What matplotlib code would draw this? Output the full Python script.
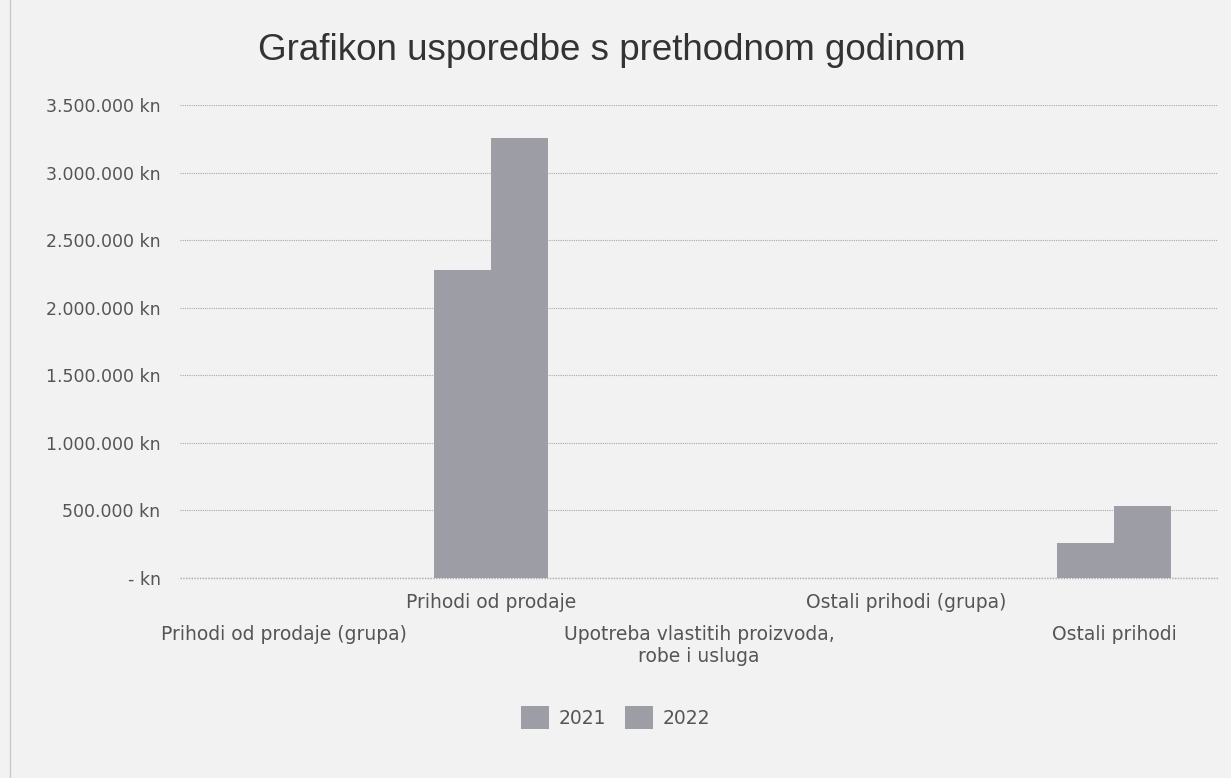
import matplotlib
matplotlib.use("Agg")
import matplotlib.pyplot as plt
from matplotlib.ticker import FuncFormatter, MultipleLocator
from matplotlib.patches import Patch, Rectangle
import numpy as np

title = "Grafikon usporedbe s prethodnom godinom"
categories = ["Prihodi od prodaje (grupa)", "Prihodi od prodaje",
              "Upotreba vlastitih proizvoda,\nrobe i usluga",
              "Ostali prihodi (grupa)", "Ostali prihodi"]
series_names = ["2021", "2022"]
values_2021 = [0, 2280000, 0, 0, 260000]
values_2022 = [0, 3255000, 0, 0, 535000]

bg = "#f2f2f2"
bar_color = "#9d9ea5"
text_color = "#555555"

fig = plt.figure(figsize=(12.31, 7.78), dpi=100, facecolor=bg)
ax = fig.add_axes([0.1462, 0.2571, 0.8432, 0.6079], facecolor=bg)

x = np.arange(len(categories))
w = 0.275
ax.bar(x - w / 2, values_2021, width=w, color=bar_color, label=series_names[0], zorder=3)
ax.bar(x + w / 2, values_2022, width=w, color=bar_color, label=series_names[1], zorder=3)

ax.set_xlim(-0.5, len(categories) - 0.5)
ax.set_ylim(0, 3500000)
ax.yaxis.set_major_locator(MultipleLocator(500000))

def fmt(v, pos):
    if v == 0:
        return "- kn"
    return f"{int(v):,}".replace(",", ".") + " kn"

ax.yaxis.set_major_formatter(FuncFormatter(fmt))
ax.tick_params(axis="y", length=0, pad=14, labelsize=12.5, labelcolor=text_color)
ax.tick_params(axis="x", length=0, labelbottom=False)
ax.grid(axis="y", color="#a8a8a8", linestyle=(0, (1, 1)), linewidth=0.8, zorder=0)
ax.axhline(0, color="#a8a8a8", linestyle=(0, (1, 1)), linewidth=1.0, zorder=2, clip_on=False)
for s in ax.spines.values():
    s.set_visible(False)

# staggered category labels
trans = ax.get_xaxis_transform()
for i, lab in enumerate(categories):
    if i % 2 == 1:
        ax.text(i, -0.032, lab, transform=trans, ha="center", va="top",
                fontsize=13.5, color=text_color)
    else:
        ax.text(i, -0.1, lab, transform=trans, ha="center", va="top",
                fontsize=13.5, color=text_color, linespacing=1.2)

fig.text(0.497, 0.935, title, ha="center", va="center", fontsize=26.5,
         color="#333333", family="Liberation Sans")

handles = [Patch(facecolor=bar_color, label=n) for n in series_names]
fig.legend(handles=handles, loc="center", bbox_to_anchor=(0.50, 0.078), ncol=2,
           frameon=False, fontsize=13.5, handlelength=1.5, handleheight=1.5,
           columnspacing=1.0, handletextpad=0.5, labelcolor=text_color)

fig.patches.append(Rectangle((0.008, -0.01), 1.1, 1.1, transform=fig.transFigure,
                             fill=False, edgecolor="#c8c8c8", linewidth=1))

fig.savefig("out.png", dpi=100, facecolor=bg)
